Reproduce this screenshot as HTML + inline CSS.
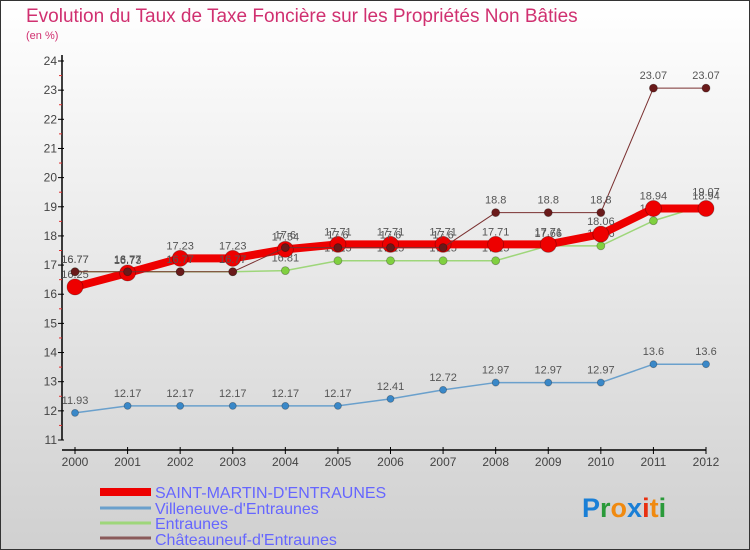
<!DOCTYPE html>
<html><head><meta charset="utf-8"><style>
html,body{margin:0;padding:0}
body{width:750px;height:550px;overflow:hidden;font-family:"Liberation Sans",sans-serif}
</style></head><body>
<svg width="750" height="550" viewBox="0 0 750 550" style="display:block">
<defs><linearGradient id="bg" x1="0" y1="0" x2="0" y2="1"><stop offset="0" stop-color="#ffffff"/><stop offset="1" stop-color="#d0d0d0"/></linearGradient></defs>
<rect x="0.5" y="0.5" width="749" height="549" fill="url(#bg)" stroke="#333"/>
<text x="26" y="22" font-size="19" fill="#d03070">Evolution du Taux de Taxe Foncière sur les Propriétés Non Bâties</text>
<text x="26" y="39" font-size="11" fill="#d03070">(en %)</text>
<g id="axes"></g>
<g id="series"></g>
<g>
<line x1="100" y1="492" x2="151" y2="492" stroke="#ee0000" stroke-width="8"/>
<text x="155" y="498" font-size="16" fill="#6666ff">SAINT-MARTIN-D'ENTRAUNES</text>
<line x1="100" y1="508" x2="151" y2="508" stroke="#6aa0cc" stroke-width="3"/>
<text x="155" y="514" font-size="16" fill="#6666ff">Villeneuve-d'Entraunes</text>
<line x1="100" y1="523" x2="151" y2="523" stroke="#9ed67a" stroke-width="3"/>
<text x="155" y="529" font-size="16" fill="#6666ff">Entraunes</text>
<line x1="100" y1="538" x2="151" y2="538" stroke="#8a5a5a" stroke-width="3"/>
<text x="155" y="545" font-size="16" fill="#6666ff">Châteauneuf-d'Entraunes</text>
</g>
<g font-size="27" font-weight="bold">
<text x="582" y="517"><tspan fill="#1a7fd6">P</tspan><tspan fill="#2a9a3a">r</tspan><tspan fill="#f08a10">o</tspan><tspan fill="#1a7fd6">x</tspan><tspan fill="#e83010">i</tspan><tspan fill="#f08a10">t</tspan><tspan fill="#2a9a3a">i</tspan></text>
</g>
</svg>
<script>
const years = ["2000","2001","2002","2003","2004","2005","2006","2007","2008","2009","2010","2011","2012"];
const yTicks = [11,12,13,14,15,16,17,18,19,20,21,22,23,24];
const saintMartin = [16.25,16.73,17.23,17.23,17.54,17.71,17.71,17.71,17.71,17.71,18.06,18.94,18.94];
const villeneuve = [11.93,12.17,12.17,12.17,12.17,12.17,12.41,12.72,12.97,12.97,12.97,13.6,13.6];
const entraunes = [16.77,16.77,16.77,16.77,16.81,17.15,17.15,17.15,17.15,17.66,17.66,18.52,19.07];
const chateauneuf = [16.77,16.77,16.77,16.77,17.6,17.6,17.6,17.6,18.8,18.8,18.8,23.07,23.07];
const NS="http://www.w3.org/2000/svg";
const x0=75,x1=706,yMin=11,yMax=24,py0=440,py1=61;
function xs(i){return x0+(x1-x0)*i/(years.length-1);}
function ys(v){return py0-(v-yMin)*(py0-py1)/(yMax-yMin);}
function mk(tag,attrs,parent){const e=document.createElementNS(NS,tag);for(const k in attrs)e.setAttribute(k,attrs[k]);parent.appendChild(e);return e;}
const ax=document.getElementById('axes');
let l=mk('line',{x1:62,y1:55,x2:62,y2:440,stroke:'#000','stroke-width':1.5},ax);


yTicks.forEach(t=>{
  const y=ys(t);
  const tk=mk('line',{x1:58,y1:y,x2:64,y2:y,stroke:'#000'},ax);
  
  
  const tx=mk('text',{x:57,y:y+4,'font-size':12,'text-anchor':'end',fill:'#444'},ax);
  tx.textContent=t;
  
  
  if(t<yMax){const m=mk('line',{x1:59,y1:ys(t+0.5),x2:62,y2:ys(t+0.5),stroke:'#e03030'},ax);
  
  }
});
l=mk('line',{x1:62,y1:450,x2:706,y2:450,stroke:'#000','stroke-width':1.5},ax);


years.forEach((yr,i)=>{
  const x=xs(i);
  const tk=mk('line',{x1:x,y1:447,x2:x,y2:454,stroke:'#000'},ax);
  
  
  const tx=mk('text',{x:x,y:466,'font-size':12,'text-anchor':'middle',fill:'#444'},ax);
  tx.textContent=yr;
  
  
});
const sg=document.getElementById('series');
function series(vals,name,color,w,r,ptFill){
  const g=mk('g',{},sg);
  
  
  const p=mk('polyline',{points:vals.map((v,i)=>xs(i)+','+ys(v)).join(' '),fill:'none',stroke:color,'stroke-width':w,'stroke-linejoin':'round'},g);
  
  
  vals.forEach((v,i)=>{
    const c=mk('circle',{cx:xs(i),cy:ys(v),r:r,fill:ptFill,stroke:'rgba(0,0,0,0.3)','stroke-width':0.8},g);
    
    
    const t=mk('text',{x:xs(i),y:ys(v)-9,'font-size':11,'text-anchor':'middle',fill:'#555'},g);
    t.textContent=v;
    
    
  });
}
series(villeneuve,'villeneuve','#6aa0cc',1.5,3.5,'#3a88c8');
series(entraunes,'entraunes','#9ed67a',1.5,4,'#80d040');
series(saintMartin,'saint-martin','#ee0000',8,8,'#ee0000');
series(chateauneuf,'chateauneuf','#7a3030',1,4,'#6a1a1a');
</script>
</body></html>
